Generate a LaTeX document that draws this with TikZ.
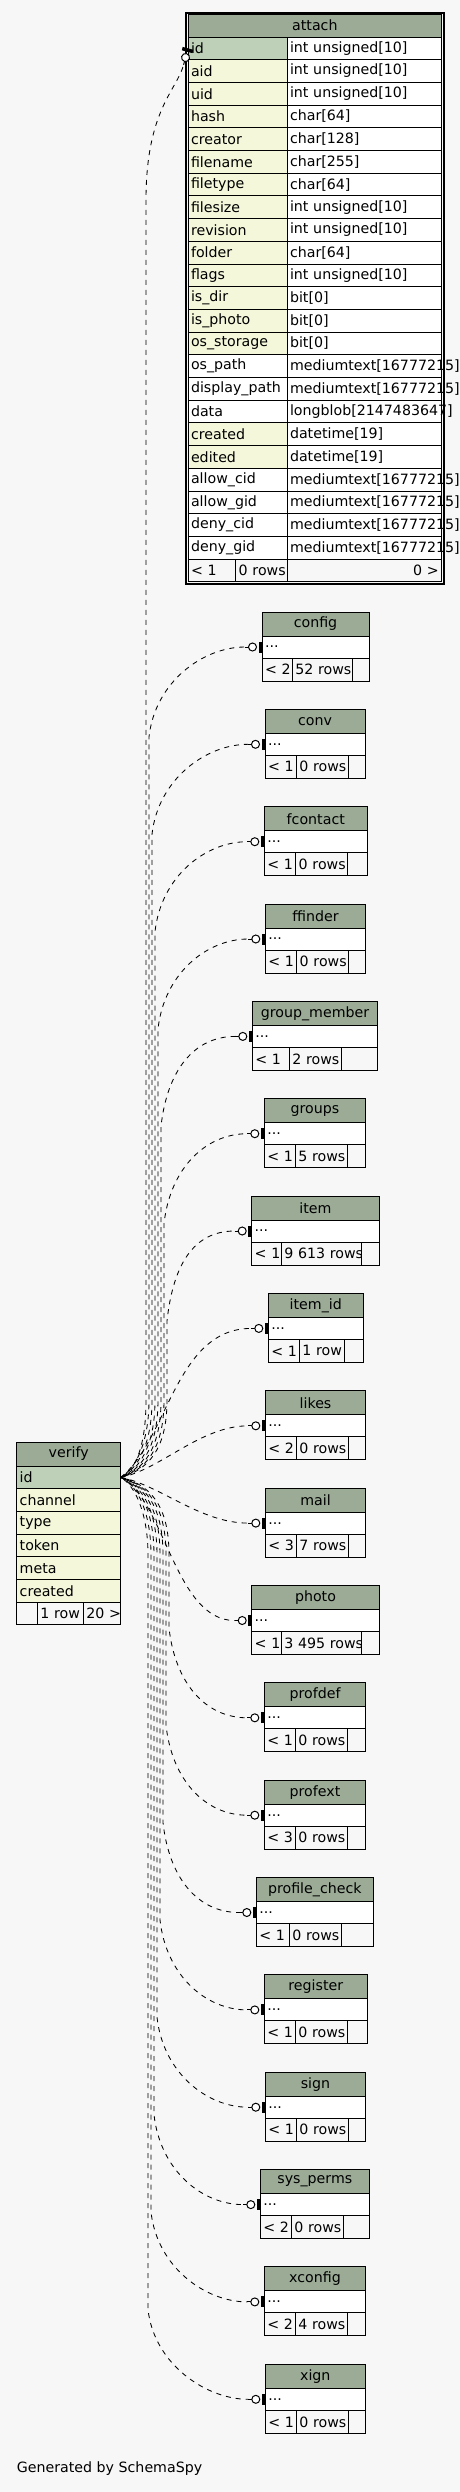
\documentclass[tikz,border=0pt]{standalone}
\usepackage{fontspec}
\setmainfont{DejaVu Sans}
\usetikzlibrary{positioning,calc}
\definecolor{hdrfill}{HTML}{9BAB96}
\definecolor{pkfill}{HTML}{BED1B8}
\definecolor{idxfill}{HTML}{F4F7DA}
\definecolor{bgfill}{HTML}{F7F7F7}
\newcommand\tabfont{\fontsize{14.2}{17}\selectfont}
\hyphenpenalty=10000
\exhyphenpenalty=10000

\tikzset{
  tcell/.style={draw, line width=1pt, inner xsep=3pt, inner ysep=0pt, outer sep=0pt, anchor=north west, font=\tabfont},
  thead/.style={tcell, fill=hdrfill, minimum height=24pt},
  trow/.style={tcell, minimum height=22.7pt, align=left},
  tfoot/.style={tcell, fill=bgfill, minimum height=23pt, align=left},
  fk/.style={line width=0.85pt, dash pattern=on 5pt off 5pt},
  oend/.pic={
    \draw[solid, line width=1pt] (-17,0) -- (-13.5,0);
    \draw[solid, line width=1pt, fill=white] (-9.5,0) circle[radius=4pt];
    \fill (-3.5,-5.5) rectangle (0,5.5);
  }
}

\begin{document}
\begin{tikzpicture}[x=1pt, y=-1pt]
  \fill[bgfill] (0,0) rectangle (460,2492);
  \useasboundingbox (0,0) rectangle (460,2492);

  % attach
  \node[thead, minimum width=253.7pt, minimum height=23pt] (attach) at (188,14) {attach};
  \foreach \nm/\ty/\clr [count=\i from 0] in {
      id/{int unsigned[10]}/pkfill, aid/{int unsigned[10]}/idxfill,
      uid/{int unsigned[10]}/idxfill, hash/{char[64]}/idxfill,
      creator/{char[128]}/idxfill, filename/{char[255]}/idxfill,
      filetype/{char[64]}/idxfill, filesize/{int unsigned[10]}/idxfill,
      revision/{int unsigned[10]}/idxfill, folder/{char[64]}/idxfill,
      flags/{int unsigned[10]}/idxfill, is\_dir/{bit[0]}/idxfill,
      is\_photo/{bit[0]}/idxfill, os\_storage/{bit[0]}/idxfill,
      os\_path/{mediumtext[16777215]}/white, display\_path/{mediumtext[16777215]}/white,
      data/{longblob[2147483647]}/white, created/{datetime[19]}/idxfill,
      edited/{datetime[19]}/idxfill, allow\_cid/{mediumtext[16777215]}/white,
      allow\_gid/{mediumtext[16777215]}/white, deny\_cid/{mediumtext[16777215]}/white,
      deny\_gid/{mediumtext[16777215]}/white}{
    \node[trow, fill=\clr, text width=93pt] (attach-n\i) at (188,37+22.7*\i) {\mbox{\nm}};
    \node[trow, fill=white, text width=148.7pt] (attach-t\i) at (attach-n\i.north east) {\mbox{\ty}};
  }
  \node[tfoot, minimum height=22pt, text width=41.7pt] (attach-f1) at (188,559.1) {\mbox{< 1}};
  \node[tfoot, minimum height=22pt, text width=45.3pt] (attach-f2) at (attach-f1.north east) {\mbox{0 rows}};
  \node[tfoot, minimum height=22pt, text width=148.7pt, align=right] (attach-f3) at (attach-f2.north east) {\mbox{0 >}};
  \draw[line width=2pt] (186,12.5) rectangle (444,584);
  \coordinate (attach-end) at ($(attach-n0.west)+(-4.4,16.4)$);
  \pic[rotate=75] at (attach-n0.west) {oend};

  % verify
  \node[thead, minimum width=104pt] (verify) at (16.7,1442) {verify};
  \foreach \nm/\clr [count=\i from 0] in {id/pkfill, channel/idxfill, type/idxfill,
      token/idxfill, meta/idxfill, created/idxfill}
    \node[trow, fill=\clr, text width=98pt] (verify-\nm) at (16.7,1466+22.7*\i) {\nm};
  \node[tfoot, minimum height=22pt, text width=14.6pt] (verify-f1) at (16.7,1602.2) {};
  \node[tfoot, minimum height=22pt, text width=40pt] (verify-f2) at (verify-f1.north east) {\mbox{1 row}};
  \node[tfoot, minimum height=22pt, text width=31.4pt] (verify-f3) at (verify-f2.north east) {\mbox{20 >}};

  % collapsed tables
  \foreach \id/\lbl/\lx/\rx/\tp/\ca/\cb/\fa/\fb in {
      config/config/262/369/612/292.3/352.3/{< 2}/{52 rows},
      conv/conv/265/365/709.3/296.3/348.3/{< 1}/{0 rows},
      fcontact/fcontact/264.3/367.3/806.7/295.7/347.7/{< 1}/{0 rows},
      ffinder/ffinder/265.3/365.7/904/296.7/348.7/{< 1}/{0 rows},
      groupmember/group\_member/252.3/377.7/1001.4/289.3/341.3/{< 1}/{2 rows},
      groups/groups/264.3/365.7/1098.7/295.3/347.3/{< 1}/{5 rows},
      item/item/251.7/379.3/1196/281.3/361.3/{< 1}/{9 613 rows},
      itemid/item\_id/268.3/363.3/1293.4/299.3/344.7/{< 1}/{1 row},
      likes/likes/265.3/365.7/1390.8/296.3/348.7/{< 2}/{0 rows},
      mail/mail/265.3/365.7/1488.1/296.3/348.7/{< 3}/{7 rows},
      photo/photo/251.7/379.3/1585.5/281.3/361.3/{< 1}/{3 495 rows},
      profdef/profdef/264.3/365.7/1682.8/295.3/347.3/{< 1}/{0 rows},
      profext/profext/264.3/365.7/1780.2/295.3/347.3/{< 3}/{0 rows},
      profilecheck/profile\_check/256.3/373.3/1877.5/289.3/341.3/{< 1}/{0 rows},
      register/register/264.3/367.3/1974.9/295.3/347.3/{< 1}/{0 rows},
      sign/sign/265.3/365.7/2072.2/296.3/348.7/{< 1}/{0 rows},
      sysperms/sys\_perms/260.3/369.3/2169.6/291.3/343.3/{< 2}/{0 rows},
      xconfig/xconfig/264.3/365.7/2266.9/295.3/347.3/{< 2}/{4 rows},
      xign/xign/265.3/365.3/2364.3/296.3/348.3/{< 1}/{0 rows}}{
    \pgfmathsetmacro\wall{\rx-\lx}
    \pgfmathsetmacro\wdot{\rx-\lx-6}
    \pgfmathsetmacro\wa{\ca-\lx-6}
    \pgfmathsetmacro\wb{\cb-\ca-6}
    \pgfmathsetmacro\wc{\rx-\cb-6}
    \node[thead, minimum width=\wall pt] (\id) at (\lx,\tp) {\lbl};
    \node[trow, fill=white, minimum height=22pt, text width=\wdot pt] (\id-d) at (\id.south west) {...};
    \node[tfoot, text width=\wa pt] (\id-f1) at (\id-d.south west) {\mbox{\fa}};
    \node[tfoot, text width=\wb pt] (\id-f2) at (\id-f1.north east) {\mbox{\fb}};
    \node[tfoot, text width=\wc pt] (\id-f3) at (\id-f2.north east) {};
    \coordinate (\id-end) at ($(\id-d.west)+(-17,0)$);
    \pic at (\id-d.west) {oend};
  }

  % implied links from verify.id
  \draw[fk] (verify-id.east) .. controls (138,1469) and (146,1440) .. (146,1400)
    -- (146,200) .. controls (146,110) and (177,90) .. (attach-end);
  \foreach \id/\xv/\ty [count=\k] in {config/149/647, conv/152/744.3, fcontact/155/841.7,
      ffinder/158/939, groupmember/161/1036.4, groups/164/1133.7, item/167/1231}
    \draw[fk, dash phase=3.7*\k] (verify-id.east) .. controls (\xv-12,1468) and (\xv,1440) .. (\xv,1400)
      -- (\xv,\ty+90) .. controls (\xv+6,\ty+35) and ($(\id-end)+(-42,0)$) .. (\id-end);
  \draw[fk] (verify-id.east) .. controls (168,1440) and ($(itemid-end)+(-76,0)$) .. (itemid-end);
  \draw[fk] (verify-id.east) .. controls (160,1470) and ($(likes-end)+(-48,0)$) .. (likes-end);
  \draw[fk] (verify-id.east) .. controls (160,1485) and ($(mail-end)+(-48,0)$) .. (mail-end);
  \draw[fk] (verify-id.east) .. controls (165,1500) and ($(photo-end)+(-60,0)$) .. (photo-end);
  \foreach \id/\xv/\ty [count=\k] in {profdef/169/1717.8, profext/166/1815.2, profilecheck/163/1912.5,
      register/160/2009.9, sign/157/2107.2, sysperms/154/2204.6, xconfig/151/2301.9,
      xign/148/2399.3}
    \draw[fk, dash phase=3.3*\k] (verify-id.east) .. controls (\xv-12,1486) and (\xv,1515) .. (\xv,1555)
      -- (\xv,\ty-90) .. controls (\xv+6,\ty-35) and ($(\id-end)+(-42,0)$) .. (\id-end);

  \node[font=\tabfont, anchor=west, inner sep=0pt] (credit) at (16.7,2469) {Generated by SchemaSpy};
\end{tikzpicture}
\end{document}
